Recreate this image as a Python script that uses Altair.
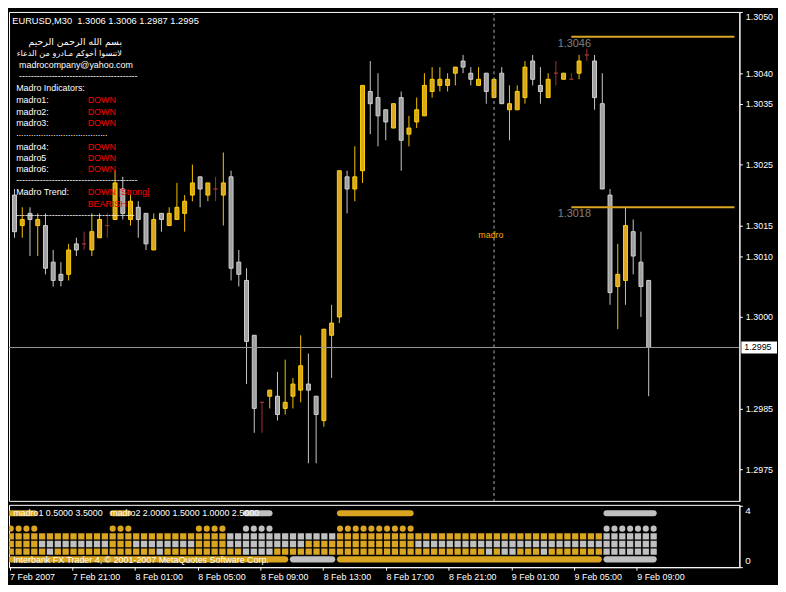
import altair as alt
import pandas as pd

# ---------------- data ----------------
opens = [1.3020, 1.3015, 1.3017, 1.3015, 1.3015, 1.3009, 1.3007, 1.3007, 1.3012, 1.3012,
         1.3011, 1.3013, 1.3015, 1.3016, 1.3021, 1.3016, 1.3018, 1.3017, 1.3011, 1.3017,
         1.3015, 1.3016, 1.3017, 1.3020, 1.3023, 1.3020, 1.3021, 1.3020, 1.3023, 1.3009,
         1.3006, 1.2997, 1.2986, 1.2987, 1.2987, 1.2985, 1.2987, 1.2988, 1.2989, 1.2987,
         1.2983, 1.2997, 1.3000, 1.3023, 1.3021, 1.3024, 1.3037, 1.3036, 1.3034, 1.3031,
         1.3036, 1.3030, 1.3032, 1.3033, 1.3037, 1.3038, 1.3038, 1.3040, 1.3042, 1.3040,
         1.3038, 1.3040, 1.3036, 1.3040, 1.3034, 1.3034, 1.3036, 1.3042, 1.3038, 1.3036,
         1.3040, 1.3039, 1.3039, 1.3040, 1.3043, 1.3042, 1.3035, 1.3020, 1.3005, 1.3006,
         1.3014, 1.3009, 1.3006]
highs = [1.3021, 1.3018, 1.3018, 1.3017, 1.3017, 1.3011, 1.3009, 1.3012, 1.3013, 1.3014,
         1.3017, 1.3017, 1.3017, 1.3024, 1.3023, 1.3020, 1.3019, 1.3017, 1.3017, 1.3017,
         1.3018, 1.3022, 1.3020, 1.3025, 1.3023, 1.3022, 1.3023, 1.3027, 1.3024, 1.3011,
         1.3008, 1.2997, 1.2986, 1.2988, 1.2991, 1.2993, 1.2990, 1.2997, 1.2994, 1.2987,
         1.2998, 1.3002, 1.3024, 1.3024, 1.3028, 1.3038, 1.3042, 1.3040, 1.3034, 1.3035,
         1.3037, 1.3033, 1.3036, 1.3040, 1.3041, 1.3041, 1.3040, 1.3041, 1.3043, 1.3041,
         1.3041, 1.3040, 1.3039, 1.3041, 1.3038, 1.3038, 1.3042, 1.3043, 1.3041, 1.3040,
         1.3042, 1.3040, 1.3040, 1.3043, 1.3044, 1.3043, 1.3040, 1.3021, 1.3012, 1.3018,
         1.3016, 1.3014, 1.3006]
lows = [1.3013, 1.3013, 1.3010, 1.3010, 1.3007, 1.3005, 1.3005, 1.3006, 1.3010, 1.3011,
        1.3010, 1.3013, 1.3013, 1.3016, 1.3016, 1.3015, 1.3013, 1.3011, 1.3011, 1.3014,
        1.3015, 1.3016, 1.3014, 1.3019, 1.3018, 1.3019, 1.3019, 1.3015, 1.3006, 1.3005,
        1.2989, 1.2981, 1.2981, 1.2985, 1.2983, 1.2984, 1.2985, 1.2986, 1.2976, 1.2976,
        1.2982, 1.2990, 1.2999, 1.3017, 1.3019, 1.3022, 1.3030, 1.3028, 1.3029, 1.3031,
        1.3024, 1.3028, 1.3031, 1.3033, 1.3036, 1.3037, 1.3037, 1.3038, 1.3040, 1.3038,
        1.3038, 1.3035, 1.3036, 1.3035, 1.3029, 1.3034, 1.3035, 1.3038, 1.3035, 1.3036,
        1.3038, 1.3039, 1.3039, 1.3039, 1.3042, 1.3034, 1.3021, 1.3002, 1.2998, 1.3002,
        1.3007, 1.3000, 1.2987]
closes = [1.3014, 1.3016, 1.3016, 1.3016, 1.3008, 1.3006, 1.3006, 1.3011, 1.3011, 1.3012,
          1.3014, 1.3016, 1.3015, 1.3022, 1.3017, 1.3019, 1.3016, 1.3012, 1.3016, 1.3016,
          1.3017, 1.3018, 1.3019, 1.3022, 1.3021, 1.3022, 1.3021, 1.3022, 1.3008, 1.3007,
          1.2996, 1.2985, 1.2986, 1.2988, 1.2984, 1.2986, 1.2989, 1.2992, 1.2988, 1.2984,
          1.2998, 1.2999, 1.3024, 1.3021, 1.3023, 1.3038, 1.3035, 1.3033, 1.3032, 1.3035,
          1.3029, 1.3031, 1.3034, 1.3038, 1.3039, 1.3039, 1.3039, 1.3041, 1.3041, 1.3039,
          1.3039, 1.3037, 1.3039, 1.3035, 1.3035, 1.3037, 1.3041, 1.3039, 1.3037, 1.3039,
          1.3040, 1.3040, 1.3039, 1.3042, 1.3043, 1.3036, 1.3021, 1.3004, 1.3007, 1.3015,
          1.3010, 1.3005, 1.2995]

price_ticks = [1.3050, 1.3040, 1.3035, 1.3025, 1.3015, 1.3010, 1.3000, 1.2985, 1.2975]
time_labels = ["7 Feb 2007", "7 Feb 21:00", "8 Feb 01:00", "8 Feb 05:00", "8 Feb 09:00",
               "8 Feb 13:00", "8 Feb 17:00", "8 Feb 21:00", "9 Feb 01:00", "9 Feb 05:00",
               "9 Feb 09:00"]
time_label_bars = [0, 8, 16, 24, 32, 40, 48, 56, 64, 72, 80]
levels = [1.3046, 1.3018]
level_start_bar = 72
last_price = 1.2995
separator_bar = [62]

# indicator rows as runs of (colour code, number of bars): o = gold, g = silver, - = empty
runs_top = [("o", 4), ("-", 9), ("o", 3), ("-", 14), ("g", 4), ("-", 8), ("o", 10), ("-", 24), ("g", 7)]
runs_circ = [("o", 4), ("-", 9), ("o", 3), ("-", 8), ("o", 4), ("-", 2), ("g", 4), ("-", 8), ("o", 10), ("-", 24), ("g", 7)]
runs_sq20 = [("o", 28), ("g", 14), ("o", 34), ("g", 7)]
runs_sq15 = [("o", 4), ("g", 9), ("o", 3), ("g", 8), ("o", 4), ("g", 10), ("o", 14), ("g", 31)]
runs_sq10 = [("o", 5), ("g", 1), ("o", 13), ("g", 1), ("o", 10), ("g", 4), ("o", 27), ("g", 1),
             ("o", 1), ("g", 2), ("o", 3), ("g", 1), ("o", 7), ("g", 7)]
runs_bot = [("o", 36), ("g", 6), ("o", 34), ("g", 7)]

# ---------------- layout constants ----------------
W, H1, H2 = 738, 494, 63
SX = W / 745.3
SY = H1 / 505.0
SY2 = H2 / 66.0
X0 = -0.075
X1 = 93.09
P_BOT, P_TOP = 1.296983, 1.305005

GOLD = "#DAA520"
SILVER = "#C0C0C0"
WHITE = "#FFFFFF"

n = len(opens)
kinds = []
for o, c in zip(opens, closes):
    d = round(c - o, 5)
    kinds.append("bull" if d > 0 else ("bear" if d < 0 else "doji"))
candles = pd.DataFrame({"i": list(range(n)), "open": opens, "high": highs,
                        "low": lows, "close": closes, "kind": kinds})

xs = alt.Scale(domain=[X0, X1], nice=False, zero=False)
ys = alt.Scale(domain=[P_BOT, P_TOP], nice=False, zero=False)
kind_dom = ["bull", "bear", "doji"]

yaxis = alt.Axis(orient="right", values=price_ticks, format=".4f", tickSize=3,
                 tickColor=WHITE, domainColor=WHITE, labelColor=WHITE,
                 labelFont="Liberation Sans", labelFontSize=9, labelPadding=3,
                 grid=False, labelOverlap=False, labelFlush=True)

wicks = alt.Chart(candles).mark_rule(strokeWidth=1, clip=True).encode(
    x=alt.X("i:Q", scale=xs, axis=None),
    y=alt.Y("low:Q", scale=ys, axis=yaxis, title=None),
    y2="high:Q",
    color=alt.Color("kind:N", scale=alt.Scale(domain=kind_dom,
                    range=["#F5C400", "#C8C8C8", "#A03232"]), legend=None),
)
bodies = alt.Chart(candles).mark_bar(size=4, strokeWidth=1, clip=True).encode(
    x=alt.X("i:Q", scale=xs, axis=None),
    y=alt.Y("open:Q", scale=ys),
    y2="close:Q",
    fill=alt.Fill("kind:N", scale=alt.Scale(domain=kind_dom,
                  range=[GOLD, "#A0A0A0", "#A03232"]), legend=None),
    stroke=alt.Stroke("kind:N", scale=alt.Scale(domain=kind_dom,
                      range=["#FFD200", "#D0D0D0", "#A03232"]), legend=None),
)

sep = alt.Chart(pd.DataFrame({"b": separator_bar})).mark_rule(
    color="#B0B0B0", strokeDash=[3, 3], strokeWidth=1, clip=True).encode(
    x=alt.X("b:Q", scale=xs, axis=None))

lev_df = pd.DataFrame({"p": levels, "s": [level_start_bar] * len(levels),
                       "e": [X1] * len(levels), "t": [f"{v:.4f}" for v in levels]})
lev_lines = alt.Chart(lev_df).mark_rule(color=GOLD, strokeWidth=2, clip=True).encode(
    x=alt.X("s:Q", scale=xs, axis=None), x2="e:Q", y=alt.Y("p:Q", scale=ys))
lev_text = alt.Chart(lev_df).mark_text(color="#808080", font="Liberation Sans", fontSize=11,
                                       dy=7, dx=3, align="center").encode(
    x=alt.X("s:Q", scale=xs, axis=None), y=alt.Y("p:Q", scale=ys), text="t:N")

last_df = pd.DataFrame({"p": [last_price], "t": [f"{last_price:.4f}"]})
last_line = alt.Chart(last_df).mark_rule(color="#9A9A9A", strokeWidth=1, clip=True).encode(
    y=alt.Y("p:Q", scale=ys))
last_box = alt.Chart(last_df).mark_point(
    shape="M-1,-0.333L1,-0.333L1,0.333L-1,0.333Z", size=1296, filled=True,
    color=WHITE, opacity=1).encode(x=alt.value(W + 20), y=alt.Y("p:Q", scale=ys))
last_txt = alt.Chart(last_df).mark_text(color="#000000", font="Liberation Sans", fontSize=9,
                                        align="left").encode(
    x=alt.value(W + 5), y=alt.Y("p:Q", scale=ys), text="t:N")

madro_df = pd.DataFrame({"b": [61.6], "p": [1.30135], "t": ["madro"]})
madro_txt = alt.Chart(madro_df).mark_text(color="#FFA500", font="Liberation Sans",
                                          fontSize=9).encode(
    x=alt.X("b:Q", scale=xs, axis=None), y=alt.Y("p:Q", scale=ys), text="t:N")


def label(text, x, y, color=WHITE, size=9, font="Liberation Sans", align="left"):
    return alt.Chart(pd.DataFrame({"t": [text]})).mark_text(
        align=align, baseline="middle", font=font, fontSize=size, color=color
    ).encode(x=alt.value((x - 2.7) * SX), y=alt.value((y - 2) * SY), text="t:N")


RED = "#FF0000"
NB = "\u00a0"
texts = [
    label("EURUSD,M30" + NB + NB + "1.3006 1.3006 1.2987 1.2995", 6, 11.5, size=9.4),
    label("بسم الله الرحمن الرحيم", 118, 33.5, font="DejaVu Sans", size=9.4, align="right"),
    label("لاتنسوا أخوكم مـادرو من الدعاء", 118, 45, font="DejaVu Sans", size=8.2, align="right"),
    label("madrocompany@yahoo.com", 13, 57),
    label("-" * 40, 13, 68),
    label("Madro Indicators:", 10, 81),
    label("madro1:", 10, 93), label("DOWN", 83, 93, color=RED),
    label("madro2:", 10, 105), label("DOWN", 83, 105, color=RED),
    label("madro3:", 10, 117), label("DOWN", 83, 117, color=RED),
    label("." * 37, 10, 127.5),
    label("madro4:", 10, 141.5), label("DOWN", 83, 141.5, color=RED),
    label("madro5", 10, 153), label("DOWN", 83, 153, color=RED),
    label("madro6:", 10, 164.5), label("DOWN", 83, 164.5, color=RED),
    label("-" * 41, 10, 176),
    label("Madro Trend:", 10, 188), label("DOWN [Strong]", 83, 188, color=RED),
    label("BEARISH", 83, 200, color=RED),
    label("-" * 40, 10, 212),
]

main = alt.layer(wicks, bodies, sep, last_line, lev_lines, lev_text, madro_txt,
                 last_box, last_txt, *texts).properties(width=W, height=H1)


# ---------------- indicator panel ----------------
def expand(runs):
    s = ""
    for ch, k in runs:
        s += ch * k
    return s


def cells(runs, v):
    return [{"i": j, "v": v, "c": ch} for j, ch in enumerate(expand(runs)) if ch != "-"]


def segments(runs, v):
    out = []
    j = 0
    for ch, k in runs:
        if ch != "-":
            out.append({"s": j + 0.15, "e": j + k - 1 + 0.15, "v": v, "c": ch})
        j += k
    return out


sq_df = pd.DataFrame(cells(runs_sq20, 2.0) + cells(runs_sq15, 1.5) + cells(runs_sq10, 1.0))
ci_df = pd.DataFrame(cells(runs_circ, 2.5))
ln_df = pd.DataFrame(segments(runs_top, 3.5) + segments(runs_bot, 0.5))

xs2 = alt.Scale(domain=[X0, X1], nice=False, zero=False)
ys2 = alt.Scale(domain=[-0.01, 4.05], nice=False, zero=False)
icol = alt.Color("c:N", scale=alt.Scale(domain=["o", "g"], range=[GOLD, SILVER]), legend=None)

label_expr = "[" + ",".join("'" + s + "'" for s in time_labels) + "][round(datum.value/8)]"
xaxis2 = alt.Axis(values=time_label_bars, labelExpr=label_expr, labelAlign="left",
                  tickSize=3, tickColor=WHITE, domainColor=WHITE, labelColor=WHITE,
                  labelFont="Liberation Sans", labelFontSize=9, labelPadding=2,
                  grid=False, labelOverlap=False, labelFlush=False)
yaxis2 = alt.Axis(orient="right", values=[0, 4], labels=False, tickSize=3, tickColor=WHITE,
                  domainColor=WHITE, grid=False)

lines2 = alt.Chart(ln_df).mark_rule(strokeWidth=6.2, strokeCap="round", clip=True).encode(
    x=alt.X("s:Q", scale=xs2, axis=xaxis2, title=None), x2="e:Q",
    y=alt.Y("v:Q", scale=ys2, axis=yaxis2, title=None), color=icol)
squares = alt.Chart(sq_df).mark_square(size=40, opacity=1, xOffset=1.2, clip=True).encode(
    x=alt.X("i:Q", scale=xs2), y=alt.Y("v:Q", scale=ys2), color=icol)
circles = alt.Chart(ci_df).mark_circle(size=38, opacity=1, xOffset=1.2, clip=True).encode(
    x=alt.X("i:Q", scale=xs2), y=alt.Y("v:Q", scale=ys2), color=icol)

axis_lab = alt.Chart(pd.DataFrame({"v": [3.64, 0.40], "t": ["4", "0"]})).mark_text(
    color=WHITE, font="Liberation Sans", fontSize=10, align="left").encode(
    x=alt.value(W + 6), y=alt.Y("v:Q", scale=ys2), text="t:N")


def label2(text, x, y, color=WHITE, size=9):
    return alt.Chart(pd.DataFrame({"t": [text]})).mark_text(
        align="left", baseline="middle", font="Liberation Sans", fontSize=size, color=color
    ).encode(x=alt.value((x - 2.7) * SX), y=alt.value((y - 509) * SY2), text="t:N")


ind_texts = [
    label2("madro1 0.5000 3.5000", 7, 518),
    label2("madro2 2.0000 1.5000 1.0000 2.5000", 106, 518),
    label2("Interbank FX Trader 4, © 2001-2007 MetaQuotes Software Corp.", 7, 567),
]

ind = alt.layer(lines2, circles, squares, axis_lab, *ind_texts).properties(width=W, height=H2)

chart = alt.vconcat(main, ind, spacing=2).resolve_scale(
    color="independent", x="independent", y="independent"
).properties(padding=0, background="#000000").configure_view(
    stroke=WHITE, strokeWidth=1
)

chart.save("out.html", embed_options={"renderer": "svg", "actions": False})
